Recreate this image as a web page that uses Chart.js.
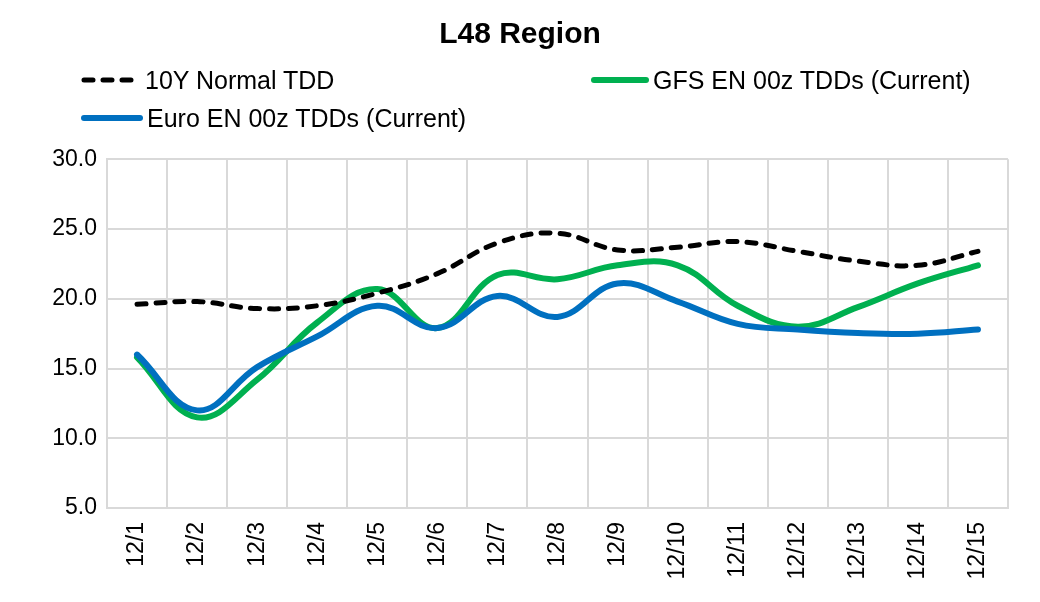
<!DOCTYPE html>
<html>
<head>
<meta charset="utf-8">
<script src="https://cdn.jsdelivr.net/npm/chart.js@4/dist/chart.umd.min.js"></script>
<style>
  html, body { margin: 0; padding: 0; background: #fff; }
  #wrap { position: relative; width: 1040px; height: 602px; }
  .leg { position: absolute; display: flex; align-items: center; font-family: "Liberation Sans", Arial, sans-serif; font-size: 25px; color: #000; white-space: nowrap; height: 30px; }
  .leg svg { display: block; margin-right: 3px; }
</style>
</head>
<body>
<div id="wrap">
  <canvas id="c" width="1040" height="602"></canvas>
  <div class="leg" style="left:80px; top:65px;">
    <svg width="62" height="10"><line x1="4" y1="5" x2="58" y2="5" stroke="#000" stroke-width="5" stroke-linecap="round" stroke-dasharray="9 10"/></svg>
    <span>10Y Normal TDD</span>
  </div>
  <div class="leg" style="left:590px; top:65px;">
    <svg width="60" height="10"><line x1="4" y1="5" x2="56" y2="5" stroke="#00B050" stroke-width="6" stroke-linecap="round"/></svg>
    <span>GFS EN 00z TDDs (Current)</span>
  </div>
  <div class="leg" style="left:80px; top:103px;">
    <svg width="64" height="10"><line x1="4" y1="5" x2="60" y2="5" stroke="#0070C0" stroke-width="6" stroke-linecap="round"/></svg>
    <span>Euro EN 00z TDDs (Current)</span>
  </div>
</div>
<script>
const categories = ['12/1','12/2','12/3','12/4','12/5','12/6','12/7','12/8','12/9','12/10','12/11','12/12','12/13','12/14','12/15'];
const normalTDD = [19.6, 19.8, 19.3, 19.5, 20.4, 21.8, 24.0, 24.7, 23.5, 23.7, 24.1, 23.4, 22.7, 22.4, 23.4];
const gfsTDD = [15.8, 11.5, 14.2, 18.3, 20.7, 17.9, 21.7, 21.4, 22.4, 22.4, 19.5, 18.0, 19.4, 21.1, 22.4];
const euroTDD = [16.0, 12.0, 15.1, 17.3, 19.5, 17.9, 20.2, 18.7, 21.1, 19.8, 18.2, 17.8, 17.55, 17.5, 17.8];
const yTicks = [5, 10, 15, 20, 25, 30];

const FONT = '"Liberation Sans", Arial, sans-serif';

new Chart(document.getElementById('c'), {
  type: 'line',
  data: {
    labels: categories,
    datasets: [
      { label: '10Y Normal TDD', data: normalTDD, borderColor: '#000', borderWidth: 5, borderDash: [9, 10], borderCapStyle: 'round', tension: 0.4, pointRadius: 0, order: 0 },
      { label: 'Euro EN 00z TDDs (Current)', data: euroTDD, borderColor: '#0070C0', borderWidth: 6, borderCapStyle: 'round', tension: 0.4, pointRadius: 0, order: 1 },
      { label: 'GFS EN 00z TDDs (Current)', data: gfsTDD, borderColor: '#00B050', borderWidth: 6, borderCapStyle: 'round', tension: 0.4, pointRadius: 0, order: 2 }
    ]
  },
  options: {
    responsive: false,
    animation: false,
    layout: { padding: 0 },
    plugins: {
      legend: { display: false },
      tooltip: { enabled: false },
      title: {
        display: true,
        text: 'L48 Region',
        color: '#000',
        font: { family: FONT, size: 30, weight: 'bold' },
        padding: { top: 17, bottom: 106.3 }
      }
    },
    scales: {
      x: {
        offset: true,
        grid: { offset: true, color: '#d9d9d9', lineWidth: 2, drawTicks: false },
        border: { color: '#d9d9d9', width: 2 },
        ticks: { maxRotation: 90, minRotation: 90, padding: 14, color: '#000', font: { family: FONT, size: 23 } },
        afterFit: s => { s.height = 94; }
      },
      y: {
        min: yTicks[0],
        max: yTicks[yTicks.length - 1],
        afterBuildTicks: s => { s.ticks = yTicks.map(v => ({ value: v })); },
        grid: { color: '#d9d9d9', lineWidth: 2, drawTicks: false },
        border: { color: '#d9d9d9', width: 2 },
        ticks: { padding: 10, color: '#000', font: { family: FONT, size: 23 }, callback: v => Number(v).toFixed(1) },
        afterFit: s => { s.width = 107; }
      },
      yRight: {
        position: 'right',
        display: true,
        grid: { display: false, drawTicks: false },
        border: { display: false },
        ticks: { display: false },
        afterFit: s => { s.width = 32; }
      }
    }
  }
});
</script>
</body>
</html>
